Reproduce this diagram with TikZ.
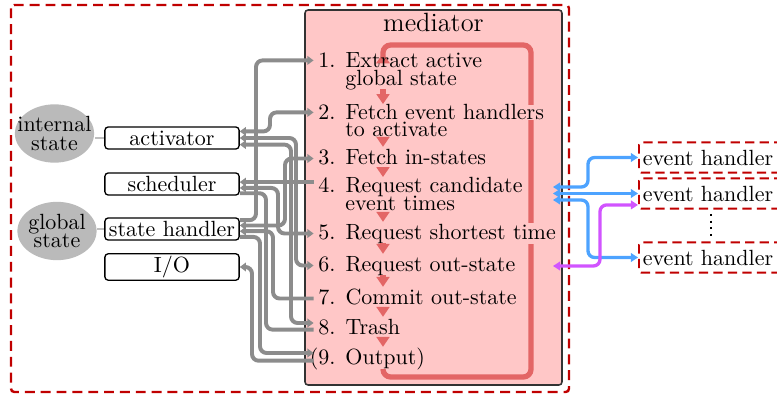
\documentclass[tikz,border=0pt]{standalone}
\usepackage{tikz}
\usetikzlibrary{arrows.meta,shapes.geometric,backgrounds}

\definecolor{dashred}{RGB}{192,0,0}
\definecolor{medpink}{RGB}{255,199,199}
\definecolor{flowred}{RGB}{227,102,102}
\definecolor{linegray}{RGB}{140,140,140}
\definecolor{stategray}{RGB}{186,186,186}
\definecolor{linkgray}{RGB}{190,190,190}
\definecolor{ehblue}{RGB}{77,163,255}
\definecolor{ehpurple}{RGB}{209,84,255}

\newcommand{\stepno}[1]{\makebox[12.3pt][l]{#1}}

\begin{document}
\begin{tikzpicture}[x=0.4545pt, y=-0.4545pt,
	comp/.style={draw, line width=0.6pt, rounded corners=1.5pt, fill=white, minimum width=61pt, minimum height=10pt, inner sep=1pt},
	statecloud/.style={ellipse, fill=stategray, minimum width=36pt, minimum height=26.5pt, inner xsep=-6pt, inner ysep=-1pt, align=center},
	handler/.style={draw=dashred, line width=0.9pt, dash pattern=on 4.2pt off 2.4pt, rounded corners=1pt, anchor=west, text width=63pt, align=left, inner xsep=1.8pt, minimum height=13.2pt},
	stepline/.style={anchor=base west, inner xsep=1pt, inner ysep=0.3pt, text height=7pt, text depth=2pt},
	firstline/.style={stepline, text height=6pt, text depth=0pt},
	nextline/.style={stepline, text height=4.5pt},
	medbox/.style={draw=black!80, line width=0.7pt, fill=medpink, rounded corners=1.4pt},
	flow/.style={line width=2.6pt, flowred, shorten <=-0.5pt, shorten >=0.3pt, -{Triangle[length=4.5pt, width=5.8pt]}},
	loopline/.style={line width=2.4pt, flowred, rounded corners=3.5pt, shorten >=0.3pt, -{Triangle[length=4.5pt, width=6pt]}},
	gl/.style={line width=1.8pt, linegray, rounded corners=3pt, shorten >=1pt, >={Triangle[length=2.8pt, width=3.9pt]}},
	bl/.style={line width=1.5pt, ehblue, rounded corners=3pt, >={Triangle[length=3.2pt, width=3.9pt]}},
	pl/.style={line width=1.5pt, ehpurple, rounded corners=3pt, >={Triangle[length=3.2pt, width=3.9pt]}},
	link/.style={line width=1.1pt, linkgray}]

	\useasboundingbox (0,0) rectangle (777,396);
	\clip (0,0) rectangle (777,396);

	% outer frame
	\draw[dashred, line width=1.1pt, dash pattern=on 4.5pt off 2.7pt, rounded corners=1.5pt] (11,5) rectangle (569,392);

	% states and components
	\node[statecloud] (ist) at (54.5,133.5) {internal\\[-3.8pt]state};
	\node[statecloud] (gst) at (57,231) {global\\[-3.6pt]state};

	\node[comp] (act) at (172,138) {activator};
	\node[comp] (sch) at (172,184) {scheduler};
	\node[comp] (sh) at (172,229) {state handler};
	\node[comp] (io) at (172,267) {I/O};

	\draw[link] (act.west) -- (act.west -| ist.east);
	\draw[link] (sh.west) -- (sh.west -| gst.east);

	% mediator steps
	\node[font=\large] (medname) at (433.5,22) {mediator};

	\node[firstline] (s1) at (315.8,67) {\stepno{1.}Extract active};
	\node[nextline] (s1b) at (342.8,85) {global state};
	\node[firstline, fill=medpink] (s2) at (315.8,119) {\stepno{2.}Fetch event handlers};
	\node[nextline] (s2b) at (342.8,136) {to activate};
	\node[stepline] (s3) at (315.8,164) {\stepno{3.}Fetch in-states};
	\node[firstline] (s4) at (315.8,192) {\stepno{4.}Request candidate};
	\node[nextline] (s4b) at (342.8,210) {event times};
	\node[stepline, fill=medpink] (s5) at (315.8,239) {\stepno{5.}Request shortest time};
	\node[stepline] (s6) at (315.8,271) {\stepno{6.}Request out-state};
	\node[stepline] (s7) at (315.8,304) {\stepno{7.}Commit out-state};
	\node[stepline] (s8) at (315.8,334) {\stepno{8.}Trash};
	\node[stepline] (s9) at (315.8,364) {\llap{(}\stepno{9.}Output)};

	\coordinate (fx) at (383,0);
	\coordinate (loopbr) at (531,377);
	\coordinate (looptop) at (383,45);

	\begin{pgfonlayer}{background}
		\draw[medbox] (305,10) rectangle (562,385);
		\draw[loopline] (s9.south -| fx) |- (loopbr) |- (looptop) -- (s1.north -| fx); % back to 1
	\end{pgfonlayer}

	\foreach \a/\b in {s1b/s2, s2b/s3, s3/s4, s4b/s5, s5/s6, s6/s7, s7/s8, s8/s9}
		\draw[flow] (\a.south -| fx) -- (\b.north -| fx);

	% gray connectors
	\foreach \c/\x in {io/252, sh/256, out/260, tr/266, act/270, com/273, sch/278, in/285, tra/291, os/296}
		\coordinate (col\c) at (\x,0);

	\coordinate (s4r) at ([yshift=1.5pt]s4.west);
	\coordinate (s8u) at ([yshift=2.5pt]s8.west);
	\coordinate (s8l) at ([yshift=-0.5pt]s8.west);
	\coordinate (s9u) at ([yshift=2.5pt]s9.west);
	\coordinate (s9l) at ([yshift=-1pt]s9.west);

	\draw[gl, ->] ([yshift=4pt]sh.east) -| (colsh |- s1.west) -- (s1.west); % 1
	\draw[gl, <->] ([yshift=3pt]act.east) -| (colact |- s2.west) -- (s2.west); % 2
	\draw[gl, <->] ([yshift=1.6pt]sh.east) -| (colin |- s3.west) -- (s3.west); % 3
	\draw[gl, <-] (sch.east |- s4r) -- (s4r); % 4
	\draw[gl, <->] ([yshift=-1.8pt]sch.east) -| (colsch |- s5.west) -- (s5.west); % 5
	\draw[gl, <->] (act.east) -| (colos |- s6.west) -- (s6.west); % 6
	\draw[gl, <-] ([yshift=-1pt]sh.east) -| (colcom |- s7.west) -- (s7.west); % 7
	\draw[gl, <->] ([yshift=-3pt]act.east) -| (coltra |- s8u) -- (s8u); % 8
	\draw[gl] ([yshift=-4.2pt]sch.east) -| (coltr |- s8l) -- (s8l);
	\draw[gl, ->] ([yshift=-3.6pt]sh.east) -| (colout |- s9u) -- (s9u); % 9
	\draw[gl, <-] (io.east) -| (colio |- s9l) -- (s9l);

	% event handlers
	\node[handler] (eh1) at (638,157.5) {event handler};
	\node[handler] (eh2) at (638,193.5) {event handler};
	\node[handler] (eh3) at (638,257.5) {event handler};
	\draw[dotted, line width=1pt, shorten <=2pt, shorten >=2pt] (eh2.south -| 711,0) -- (eh3.north -| 711,0);

	\coordinate (e1) at (553,187);
	\coordinate (e3) at (553,200);
	\coordinate (e6) at (553,266);
	\coordinate (bcol) at (588,0);
	\coordinate (pcol) at (600,0);
	\coordinate (eh2p) at ([yshift=-5.2pt]eh2.west);

	\draw[bl, <->] (e1) -| (bcol |- eh1.west) -- (eh1.west);
	\draw[bl, <->] (eh2.west -| e1) -- (eh2.west);
	\draw[bl, <->] (e3) -| (bcol |- eh3.west) -- (eh3.west);
	\draw[pl, <->] (e6) -| (pcol |- eh2p) -- (eh2p);

\end{tikzpicture}
\end{document}
